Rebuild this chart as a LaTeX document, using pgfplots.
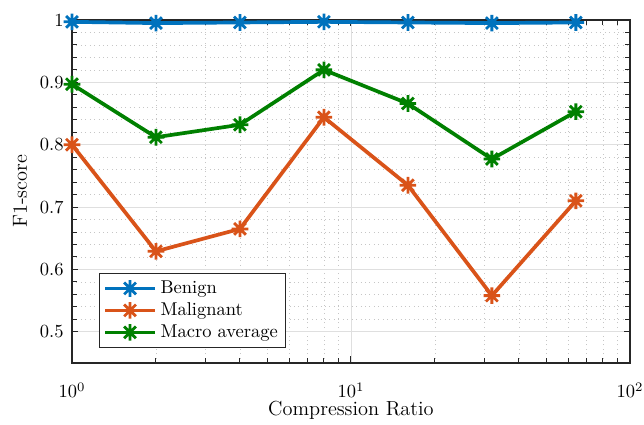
\documentclass[border=0pt]{standalone}
\usepackage{pgfplots}
\pgfplotsset{compat=1.18}

\definecolor{mblue}{rgb}{0,0.447,0.741}
\definecolor{morange}{rgb}{0.851,0.325,0.098}
\definecolor{mgreen}{rgb}{0,0.5,0}
\definecolor{axgray}{rgb}{0.15,0.15,0.15}

% eight-armed asterisk
\pgfdeclareplotmark{ast8}{%
  \pgfpathmoveto{\pgfqpoint{0pt}{\pgfplotmarksize}}%
  \pgfpathlineto{\pgfqpoint{0pt}{-\pgfplotmarksize}}%
  \pgfpathmoveto{\pgfqpoint{\pgfplotmarksize}{0pt}}%
  \pgfpathlineto{\pgfqpoint{-\pgfplotmarksize}{0pt}}%
  \pgfpathmoveto{\pgfqpointpolar{45}{\pgfplotmarksize}}%
  \pgfpathlineto{\pgfqpointpolar{225}{\pgfplotmarksize}}%
  \pgfpathmoveto{\pgfqpointpolar{135}{\pgfplotmarksize}}%
  \pgfpathlineto{\pgfqpointpolar{315}{\pgfplotmarksize}}%
  \pgfusepathqstroke}

\begin{document}
\begin{tikzpicture}
\begin{semilogxaxis}[
  scale only axis,
  width=301.6pt, height=185.4pt,
  xmin=1, xmax=100,
  ymin=0.45, ymax=1,
  ytick={0.5,0.6,0.7,0.8,0.9,1},
  yticklabels={0.5,0.6,0.7,0.8,0.9,1},
  minor y tick num=4,
  grid=both,
  major grid style={line width=0.4pt, draw=gray!25},
  minor grid style={line width=0.4pt, draw=gray!45, dotted},
  axis line style={axgray, line width=0.6pt},
  tick style={axgray, line width=0.5pt},
  major tick length=3.5pt, minor tick length=2.5pt,
  tick label style={font=\fontsize{10}{12}\selectfont},
  xticklabel style={anchor=base, yshift=-18.9pt},
  yticklabel style={xshift=-1pt},
  xlabel={Compression Ratio},
  ylabel={F1-score},
  every axis x label/.style={at={(axis description cs:0.5,-0.154)}, anchor=base, font=\fontsize{11}{13}\selectfont},
  every axis y label/.style={at={(axis description cs:-0.093,0.5)}, rotate=90, anchor=center, font=\fontsize{11}{13}\selectfont},
  every axis plot/.append style={line width=2pt, mark=ast8, mark size=4.5pt, mark options={solid, line width=1.5pt}},
  legend cell align=left,
  legend style={at={(0.0484,0.263)}, anchor=north west, draw=axgray, line width=0.6pt,
    font=\fontsize{10}{12}\selectfont, inner xsep=2pt, inner ysep=2pt, row sep=-0.5pt},
  legend image code/.code={%
    \draw[mark repeat=2, mark phase=2] plot coordinates {(0pt,0pt) (13.5pt,0pt) (27pt,0pt)};},
]
\addplot[color=mblue] coordinates {
  (1,0.997) (2,0.995) (4,0.996) (8,0.997) (16,0.996) (32,0.995) (64,0.996)
};
\addlegendentry{Benign}
\addplot[color=morange] coordinates {
  (1,0.800) (2,0.629) (4,0.665) (8,0.844) (16,0.735) (32,0.558) (64,0.710)
};
\addlegendentry{Malignant}
\addplot[color=mgreen] coordinates {
  (1,0.897) (2,0.812) (4,0.832) (8,0.920) (16,0.866) (32,0.777) (64,0.853)
};
\addlegendentry{Macro average}
\coordinate (ll) at (rel axis cs:0,0);
\coordinate (ur) at (rel axis cs:1,1);
\end{semilogxaxis}
% page frame with white margin around the axes
\pgfresetboundingbox
\path ([xshift=-38.9pt,yshift=-33.5pt]ll) rectangle ([xshift=7.6pt,yshift=10.8pt]ur);
\end{tikzpicture}
\end{document}
